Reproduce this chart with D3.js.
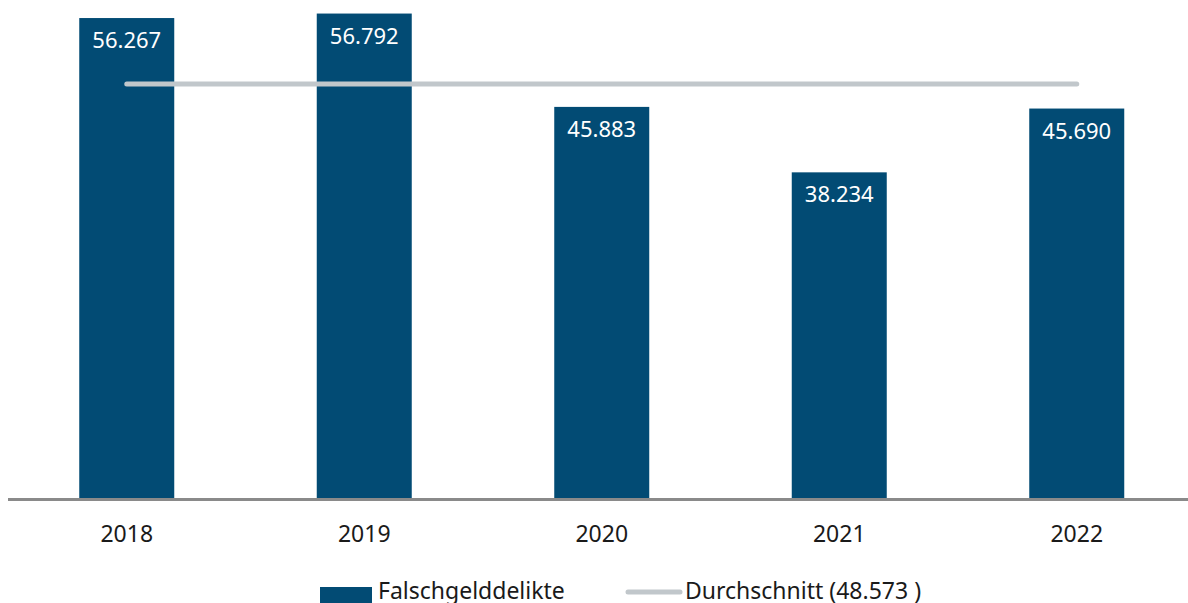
<!DOCTYPE html>
<html>
<head>
<meta charset="utf-8">
<script src="https://cdn.jsdelivr.net/npm/d3@7"></script>
<style>
    html, body { margin: 0; padding: 0; background: #fff; overflow: hidden; }
    svg { display: block; font-family: "Noto Sans", sans-serif; }
    .val-label { fill: #fff; font-size: 22px; }
    .year-label { fill: #1a1a1a; font-size: 23px; }
    .legend-label { fill: #1a1a1a; font-size: 23px; }
</style>
</head>
<body>
<div id="chart"></div>
<script>
"use strict"

// data
const years = ["2018", "2019", "2020", "2021", "2022"]
const cases = [56267, 56792, 45883, 38234, 45690]
const average = 48573
const seriesName = "Falschgelddelikte"
const averageName = "Durchschnitt (48.573 )"

const chart = (function() {
    const w = 1188, h = 603
    const colors = { bar: "#024b74", avg: "#c1c7cb", axis: "#8a8a8a" }
    const frame = { l: 8, r: 1188, base: 499.5 }

    const data = years.map((yr, i) => ({ year: yr, value: cases[i] }))
    const fmt = v => d3.format(",")(v).replace(/,/g, ".")

    const x = d3.scaleBand()
                .domain(years)
                .range([frame.l, frame.l + 5 * 237.5])
                .paddingInner(0.6)
                .paddingOuter(0.3)
    const y = d3.scaleLinear()
                .domain([0, 60000])
                .range([frame.base, -13.9])

    const svg = d3.select("#chart")
                .append("svg")
                    .attr("width", w)
                    .attr("height", h)

    // bars
    svg.selectAll(".bar")
        .data(data)
        .enter().append("rect")
            .attr("class", "bar")
            .attr("x", d => x(d.year))
            .attr("y", d => y(d.value))
            .attr("width", x.bandwidth())
            .attr("height", d => y(0) - y(d.value))
            .attr("fill", colors.bar)

    // value labels
    svg.selectAll(".val-label")
        .data(data)
        .enter().append("text")
            .attr("class", "val-label")
            .attr("text-anchor", "middle")
            .attr("x", d => x(d.year) + x.bandwidth() / 2)
            .attr("y", d => y(d.value) + 30)
            .text(d => fmt(d.value))

    // average line
    const cx = yr => x(yr) + x.bandwidth() / 2
    svg.append("line")
        .attr("x1", cx(years[0]))
        .attr("x2", cx(years[years.length - 1]))
        .attr("y1", y(average))
        .attr("y2", y(average))
        .attr("stroke", colors.avg)
        .attr("stroke-width", 5)
        .attr("stroke-linecap", "round")

    // x axis
    const xAxis = d3.axisBottom(x).tickSize(0).tickPadding(0).tickSizeOuter(0)
    const gx = svg.append("g")
        .attr("transform", `translate(0, ${ frame.base })`)
        .call(xAxis)
    gx.select(".domain").remove()
    gx.selectAll("text")
        .attr("class", "year-label")
        .attr("dy", null)
        .attr("y", 42)
        .attr("fill", null)
    gx.attr("font-size", null).attr("font-family", null)
    svg.append("line")
        .attr("x1", frame.l).attr("x2", frame.r)
        .attr("y1", frame.base).attr("y2", frame.base)
        .attr("stroke", colors.axis)
        .attr("stroke-width", 3)

    // legend
    const lg = svg.append("g")
    lg.append("rect")
        .attr("x", 320).attr("y", 587)
        .attr("width", 52).attr("height", 16)
        .attr("fill", colors.bar)
    lg.append("text")
        .attr("class", "legend-label")
        .attr("x", 378).attr("y", 599)
        .text(seriesName)
    lg.append("line")
        .attr("x1", 628).attr("x2", 680)
        .attr("y1", 592).attr("y2", 592)
        .attr("stroke", colors.avg)
        .attr("stroke-width", 5)
        .attr("stroke-linecap", "round")
    lg.append("text")
        .attr("class", "legend-label")
        .attr("x", 685).attr("y", 599)
        .text(averageName)
})()
</script>
</body>
</html>
